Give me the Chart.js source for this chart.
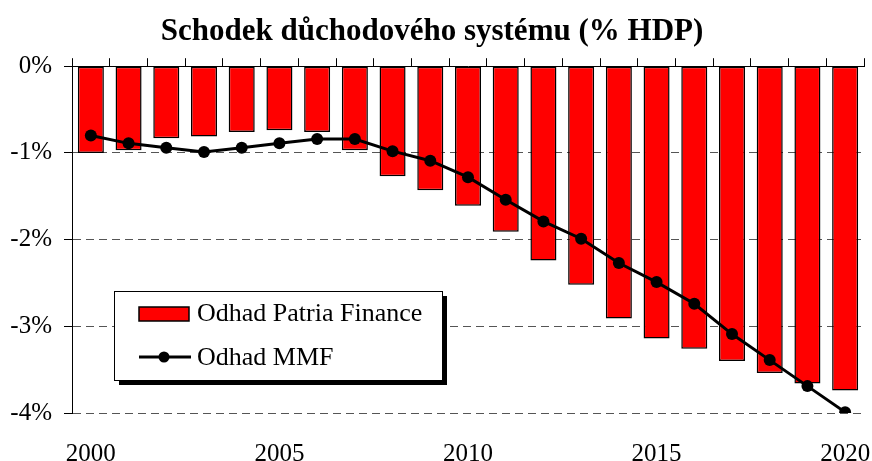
<!DOCTYPE html>
<html>
<head>
<meta charset="utf-8">
<script src="https://cdn.jsdelivr.net/npm/chart.js@4/dist/chart.umd.min.js"></script>
<style>
    html, body { margin: 0; padding: 0; background: #fff; }
    #wrap { width: 872px; height: 461px; }
</style>
</head>
<body>
<div id="wrap"><canvas id="deficitChart" width="872" height="461"></canvas></div>
<script>
const years = ['2000', '2001', '2002', '2003', '2004', '2005', '2006', '2007', '2008', '2009', '2010',
    '2011', '2012', '2013', '2014', '2015', '2016', '2017', '2018', '2019', '2020'];
const patriaValues = [-1.00, -0.97, -0.83, -0.81, -0.76, -0.74, -0.76, -0.97, -1.27, -1.43, -1.61,
    -1.91, -2.24, -2.52, -2.91, -3.14, -3.26, -3.40, -3.54, -3.66, -3.74];
const mmfValues = [-0.80, -0.89, -0.94, -0.99, -0.94, -0.89, -0.84, -0.84, -0.98, -1.09, -1.28,
    -1.54, -1.79, -1.99, -2.27, -2.49, -2.74, -3.09, -3.39, -3.69, -3.99];
const yTicks = [0, -1, -2, -3, -4];
const shownYears = ['2000', '2005', '2010', '2015', '2020'];

const serif = "'Liberation Serif', 'Times New Roman', serif";

// Legend box drawn inside the plot area, with a drop shadow
const boxLegend = {
    id: 'boxLegend',
    afterDraw(chart) {
        const ctx = chart.ctx;
        const ds = chart.data.datasets;
        const barDs = ds.find(d => d.type === 'bar');
        const lineDs = ds.find(d => d.type === 'line');
        const x = 114, y = 291, w = 328, h = 89;
        ctx.save();
        ctx.fillStyle = '#000';
        ctx.fillRect(x + 5, y + 5, w, h);
        ctx.fillStyle = '#fff';
        ctx.fillRect(x, y, w, h);
        ctx.strokeStyle = '#000';
        ctx.lineWidth = 1;
        ctx.strokeRect(x + 0.5, y + 0.5, w, h);

        // bar swatch
        ctx.fillStyle = barDs.backgroundColor;
        ctx.fillRect(139, 307, 50, 14);
        ctx.lineWidth = 1.5;
        ctx.strokeRect(139, 307, 50, 14);

        // line swatch
        ctx.beginPath();
        ctx.lineWidth = 3;
        ctx.moveTo(139, 357);
        ctx.lineTo(191, 357);
        ctx.stroke();
        ctx.beginPath();
        ctx.fillStyle = '#000';
        ctx.arc(164, 357, 5.5, 0, Math.PI * 2);
        ctx.fill();

        ctx.fillStyle = '#000';
        ctx.font = '26px ' + serif;
        ctx.textBaseline = 'middle';
        ctx.textAlign = 'left';
        ctx.fillText(barDs.label, 197, 314);
        ctx.fillText(lineDs.label, 197, 358);
        ctx.restore();
    }
};

const ctx = document.getElementById('deficitChart').getContext('2d');
new Chart(ctx, {
    data: {
        labels: years,
        datasets: [{
            type: 'line',
            label: 'Odhad MMF',
            data: mmfValues,
            borderColor: '#000',
            backgroundColor: '#000',
            borderWidth: 3,
            pointRadius: 6,
            pointBackgroundColor: '#000',
            pointBorderWidth: 0,
            tension: 0,
            order: 0
        }, {
            type: 'bar',
            label: 'Odhad Patria Finance',
            data: patriaValues,
            backgroundColor: '#ff0000',
            borderColor: '#000',
            borderWidth: 1.5,
            borderSkipped: false,
            barPercentage: 0.69,
            categoryPercentage: 1,
            order: 1
        }]
    },
    options: {
        responsive: false,
        animation: false,
        layout: { padding: { left: 0, right: 8, top: 0, bottom: 0 } },
        plugins: {
            legend: { display: false },
            tooltip: { enabled: false },
            title: {
                display: true,
                text: 'Schodek důchodového systému (% HDP)',
                color: '#000',
                font: { family: serif, size: 31, weight: 'bold' },
                padding: { top: 13, bottom: 8 }
            }
        },
        scales: {
            x: {
                type: 'category',
                position: 'bottom',
                offset: true,
                grid: { display: false },
                border: { display: false },
                ticks: {
                    autoSkip: false,
                    maxRotation: 0,
                    padding: 18,
                    color: '#000',
                    font: { family: serif, size: 25 },
                    callback: function (value) {
                        const lab = this.getLabelForValue(value);
                        return shownYears.includes(lab) ? lab : '';
                    }
                },
                afterFit: (scale) => {
                    scale.height = 48;
                    scale.paddingLeft = 0;
                    scale.paddingRight = 0;
                }
            },
            x2: {
                type: 'category',
                position: 'top',
                offset: true,
                grid: {
                    offset: true,
                    drawOnChartArea: false,
                    drawTicks: true,
                    tickLength: 8,
                    color: '#000',
                    tickColor: '#000'
                },
                border: { display: true, color: '#000', width: 1 },
                ticks: { display: false },
                afterFit: (scale) => {
                    scale.paddingLeft = 0;
                    scale.paddingRight = 0;
                }
            },
            y: {
                min: -4,
                max: 0,
                afterBuildTicks: (scale) => { scale.ticks = yTicks.map(v => ({ value: v })); },
                grid: {
                    color: (c) => c.tick && c.tick.value === 0 ? 'rgba(0,0,0,0)' : '#555',
                    tickColor: '#000',
                    tickLength: 8,
                    lineWidth: 1
                },
                border: { display: true, color: '#000', width: 1, dash: [8, 5] },
                ticks: {
                    padding: 12,
                    color: '#000',
                    font: { family: serif, size: 25 },
                    callback: (v) => v + '%'
                },
                afterFit: (scale) => {
                    scale.width = 72;
                    scale.paddingTop = 0;
                    scale.paddingBottom = 0;
                }
            }
        }
    },
    plugins: [boxLegend]
});
</script>
</body>
</html>
